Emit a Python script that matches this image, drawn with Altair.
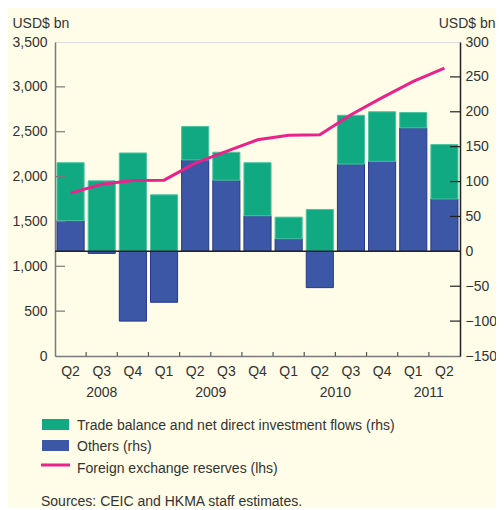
import altair as alt
import pandas as pd

# ---- data ----
quarters = ["Q2", "Q3", "Q4", "Q1", "Q2", "Q3", "Q4", "Q1", "Q2", "Q3", "Q4", "Q1", "Q2"]
years = ["2008", "2008", "2008", "2009", "2009", "2009", "2009",
         "2010", "2010", "2010", "2010", "2011", "2011"]
others = [44, -3, -100, -73, 131, 102, 51, 18, -52, 125, 129, 177, 75]
trade = [83, 101, 141, 81, 48, 40, 76, 31, 60, 70, 71, 22, 78]
reserves = [1815, 1915, 1955, 1960, 2150, 2280, 2410, 2460, 2465, 2690, 2880, 3060, 3210]

series_names = ["Trade balance and net direct investment flows (rhs)", "Others (rhs)"]
line_name = "Foreign exchange reserves (lhs)"
source_text = "Sources: CEIC and HKMA staff estimates."
left_values = [0, 500, 1000, 1500, 2000, 2500, 3000, 3500]
right_values = [-150, -100, -50, 0, 50, 100, 150, 200, 250, 300]
left_tick_marks = [500, 1000, 1500, 2000, 2500, 3000]
right_tick_marks = [-100, -50, 50, 100, 150, 200, 250]
year_mid_label = ["2008"]
year_mid_anchor = ["2008 Q3"]
year_edge_labels = ["2009", "2010", "2011"]
year_edge_anchor = ["2009 Q3", "2010 Q3", "2011 Q2"]

GREEN = "#10a981"
BLUE = "#3b57a5"
PINK = "#e8238c"
BG = "#fffce8"
TXT = "#333333"
W, H = 405, 314
FONT = "Liberation Sans"

periods = [f"{y} {q}" for y, q in zip(years, quarters)]

bar_rows = []
for p, o, t in zip(periods, others, trade):
    bar_rows.append({"period": p, "series": series_names[1], "value": o, "ord": 0})
    bar_rows.append({"period": p, "series": series_names[0], "value": t, "ord": 1})
bar_df = pd.DataFrame(bar_rows)
line_df = pd.DataFrame({"period": periods, "res": reserves})

xscale = alt.Scale(domain=periods, paddingInner=0, paddingOuter=0)
x_axis = alt.Axis(orient="bottom", labelExpr="split(datum.value, ' ')[1]", labelAngle=0,
                  labelPadding=8, tickSize=0, domainColor="#7a7a7a", domainWidth=1.5,
                  labelFontSize=14, labelColor=TXT, title=None, grid=False)

rscale = alt.Scale(domain=[-150, 300], nice=False, zero=False)
lscale = alt.Scale(domain=[0, 3500], nice=False)

right_axis = alt.Axis(orient="right", values=right_values, labelExpr="format(datum.value, 'd')",
                      tickSize=0, labelPadding=5,
                      domainColor="#222222", domainWidth=1.5, grid=False,
                      labelFontSize=14, labelColor=TXT,
                      title="USD$ bn", titleAngle=0, titleX=35, titleY=-15,
                      titleAlign="right", titleBaseline="alphabetic",
                      titleFontWeight="normal", titleFontSize=14, titleColor=TXT)
left_axis = alt.Axis(orient="left", values=left_values, labelExpr="format(datum.value, ',')",
                     tickSize=0, labelPadding=8,
                     domainColor="#7a7a7a", domainWidth=1.5, grid=False,
                     labelFontSize=14, labelColor=TXT,
                     title="USD$ bn", titleAngle=0, titleX=-43, titleY=-15,
                     titleAlign="left", titleBaseline="alphabetic",
                     titleFontWeight="normal", titleFontSize=14, titleColor=TXT)


def X(**kw):
    return alt.X("period:N", sort=periods, scale=xscale, axis=x_axis, **kw)


bars = alt.Chart(bar_df).mark_bar(width=alt.RelativeBandSize(0.87), strokeWidth=1).encode(
    x=X(),
    y=alt.Y("value:Q", stack="zero", scale=rscale, axis=right_axis),
    fill=alt.Fill("series:N", scale=alt.Scale(domain=series_names, range=[GREEN, BLUE]), legend=None),
    stroke=alt.Stroke("series:N", scale=alt.Scale(domain=series_names, range=["#4cc4a2", "#27378a"]), legend=None),
    order=alt.Order("ord:Q"),
)
zero_line = alt.Chart(pd.DataFrame({"value": [0]})).mark_rule(color="#222222", strokeWidth=1.5).encode(
    y=alt.Y("value:Q", scale=rscale, axis=right_axis)
)
rticks = alt.Chart(pd.DataFrame({"value": right_tick_marks})).mark_rule(color="#222222", strokeWidth=1.2).encode(
    y=alt.Y("value:Q", scale=rscale, axis=right_axis), x=alt.value(W - 10), x2=alt.value(W)
)
right_group = alt.layer(bars, zero_line, rticks)

line = alt.Chart(line_df).mark_line(color=PINK, strokeWidth=3).encode(
    x=X(), y=alt.Y("res:Q", scale=lscale, axis=left_axis)
)
lticks = alt.Chart(pd.DataFrame({"res": left_tick_marks})).mark_rule(color="#7a7a7a", strokeWidth=1.2).encode(
    y=alt.Y("res:Q", scale=lscale, axis=left_axis), x=alt.value(0), x2=alt.value(10)
)
left_group = alt.layer(line, lticks)

xticks = alt.Chart(pd.DataFrame({"period": periods[1:]})).mark_rule(color="#555555", strokeWidth=1.2).encode(
    x=X(bandPosition=0), y=alt.value(H - 4), y2=alt.value(H)
)
yr_mid = alt.Chart(pd.DataFrame({"period": year_mid_anchor, "t": year_mid_label})).mark_text(
    fontSize=14, color=TXT, baseline="alphabetic", align="center").encode(
    x=X(bandPosition=0.5), y=alt.value(H + 41), text="t:N")
yr_edge = alt.Chart(pd.DataFrame({"period": year_edge_anchor, "t": year_edge_labels})).mark_text(
    fontSize=14, color=TXT, baseline="alphabetic", align="center").encode(
    x=X(bandPosition=0), y=alt.value(H + 41), text="t:N")

one = pd.DataFrame({"a": [0]})
leg_green = alt.Chart(one).mark_rect(color=GREEN).encode(
    x=alt.value(-13), x2=alt.value(14), y=alt.value(377), y2=alt.value(388))
leg_blue = alt.Chart(one).mark_rect(color=BLUE).encode(
    x=alt.value(-13), x2=alt.value(14), y=alt.value(398), y2=alt.value(409))
leg_pink = alt.Chart(one).mark_rule(color=PINK, strokeWidth=3).encode(
    x=alt.value(-14), x2=alt.value(15), y=alt.value(423))
leg_t0 = alt.Chart(pd.DataFrame({"t": [series_names[0]]})).mark_text(
    fontSize=14, color=TXT, align="left", baseline="alphabetic").encode(
    text="t:N", x=alt.value(22), y=alt.value(388))
leg_t1 = alt.Chart(pd.DataFrame({"t": [series_names[1]]})).mark_text(
    fontSize=14, color=TXT, align="left", baseline="alphabetic").encode(
    text="t:N", x=alt.value(22), y=alt.value(409))
leg_t2 = alt.Chart(pd.DataFrame({"t": [line_name]})).mark_text(
    fontSize=14, color=TXT, align="left", baseline="alphabetic").encode(
    text="t:N", x=alt.value(22), y=alt.value(431))
src = alt.Chart(pd.DataFrame({"t": [source_text]})).mark_text(
    fontSize=14, color=TXT, align="left", baseline="alphabetic").encode(
    text="t:N", x=alt.value(-14), y=alt.value(464))

chart = alt.layer(
    right_group, left_group, xticks, yr_mid, yr_edge,
    leg_green, leg_blue, leg_pink, leg_t0, leg_t1, leg_t2, src
).resolve_scale(y="independent").properties(
    width=W, height=H, autosize=alt.AutoSizeParams(type="none"),
    padding={"left": 47, "top": 34, "right": 36, "bottom": 152},
    background=BG,
).configure_view(strokeOpacity=0).configure(font=FONT)

chart.save("out.html", embed_options={"renderer": "svg", "actions": False})
